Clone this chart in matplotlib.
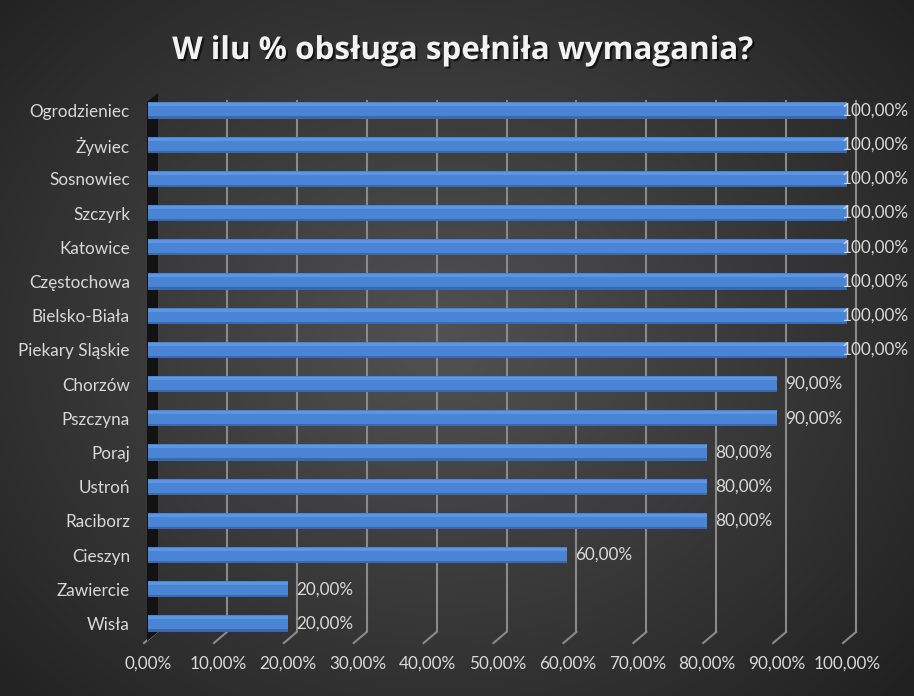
import numpy as np
import matplotlib
matplotlib.use("Agg")
import matplotlib.pyplot as plt
import matplotlib.transforms as mtransforms
import matplotlib.patheffects as pe

categories = ["Ogrodzieniec", "Żywiec", "Sosnowiec", "Szczyrk", "Katowice",
              "Częstochowa", "Bielsko-Biała", "Piekary Sląskie", "Chorzów",
              "Pszczyna", "Poraj", "Ustroń", "Raciborz", "Cieszyn",
              "Zawiercie", "Wisła"]
values = [100, 100, 100, 100, 100, 100, 100, 100, 90, 90, 80, 80, 80, 60, 20, 20]
xticks = [0, 10, 20, 30, 40, 50, 60, 70, 80, 90, 100]
title = "W ilu % obsługa spełniła wymagania?"

W, H = 914, 696
fig = plt.figure(figsize=(W / 100, H / 100), dpi=100)

# background radial gradient
bg = fig.add_axes([0, 0, 1, 1])
yy, xx = np.mgrid[0:H, 0:W]
r = np.sqrt(((xx - 440) / 620.0) ** 2 + ((yy - 340) / 520.0) ** 2)
g = np.clip(1 - r, 0, 1)
lum = 0.13 + 0.19 * g
img = np.dstack([lum, lum, lum])
bg.imshow(img, extent=[0, W, H, 0], aspect="auto")
bg.set_xlim(0, W)
bg.set_ylim(H, 0)
bg.axis("off")

font = "Lato"
txtcol = "#d9d9d9"

# main axes: x 0..100 -> px 148..847 ; rows centered at 110.5 + 34.2*i
left_px, right_px = 148, 847
top_px, bot_px = 93.4, 640.6
ax = fig.add_axes([left_px / W, 1 - bot_px / H, (right_px - left_px) / W, (bot_px - top_px) / H])
ax.set_facecolor("none")
ax.set_xlim(0, 100)
n = len(categories)
ax.set_ylim(n - 0.5, -0.5)
for s in ax.spines.values():
    s.set_visible(False)

ypos = np.arange(n)

def fpt(px, py):
    return (px / W, 1 - py / H)

# gridlines (back wall, shifted right) with floor diagonals
shift = mtransforms.ScaledTranslation(0.09, 0, fig.dpi_scale_trans)
trans_b = mtransforms.blended_transform_factory(ax.transData, ax.transAxes)
g_top = 1 - (100 - top_px) / (bot_px - top_px)
g_bot = 1 - (632 - top_px) / (bot_px - top_px)
gcol = "#8a8a8a"
for v in xticks:
    ax.plot([v, v], [g_bot, g_top], transform=trans_b + shift, color=gcol,
            lw=1.5, solid_capstyle="butt", zorder=1, clip_on=False)
    p0 = (trans_b + shift).transform((v, g_bot))
    p1 = p0 + np.array([-13, -11])
    ax.add_line(plt.Line2D([p0[0] / W, p1[0] / W], [p0[1] / H, p1[1] / H],
                           color=gcol, lw=1.5, transform=fig.transFigure,
                           zorder=1, clip_on=False))

# left dark wall
wx = ax.transData.transform((0, 0))[0]
ax.add_patch(plt.Polygon([fpt(wx - 1, 641), fpt(wx - 1, 102), fpt(wx + 10, 93), fpt(wx + 10, 632)],
                         closed=True, facecolor="#121212", edgecolor="none",
                         transform=fig.transFigure, zorder=2, clip_on=False))

# bars with pseudo-3D shading
bh = 0.47
ax.barh(ypos, values, height=bh, color="#3a69b0", zorder=3)
ax.barh(ypos - 0.03, values, height=0.41, color="#4a84d4", zorder=4)
ax.barh(ypos - 0.162, values, height=0.088, color="#5e95e0", zorder=5)

# value labels
for y, v in zip(ypos, values):
    off = 8 if v < 100 else -5
    ax.annotate(f"{v:.2f}%".replace(".", ","), xy=(v, y), xytext=(off, 0),
                textcoords="offset pixels", va="center", ha="left",
                fontsize=12.3, color=txtcol, family=font, zorder=6,
                annotation_clip=False)

ax.set_yticks(ypos)
ax.set_yticklabels(categories, fontsize=12.3, color=txtcol, family=font)
ax.set_xticks(xticks)
ax.set_xticklabels([f"{v:.2f}%".replace(".", ",") for v in xticks],
                   fontsize=12.3, color=txtcol, family=font)
ax.tick_params(axis="y", length=0, pad=13)
ax.tick_params(axis="x", length=0, pad=11)

fig.text(463 / W, 1 - 51 / H, title, ha="center", va="center", fontsize=22.6,
         fontweight="bold", color="#f2f2f2", family="Open Sans",
         path_effects=[pe.withSimplePatchShadow(offset=(1.5, -1.5), shadow_rgbFace="black", alpha=0.6)])

fig.savefig("out.png", dpi=100)
